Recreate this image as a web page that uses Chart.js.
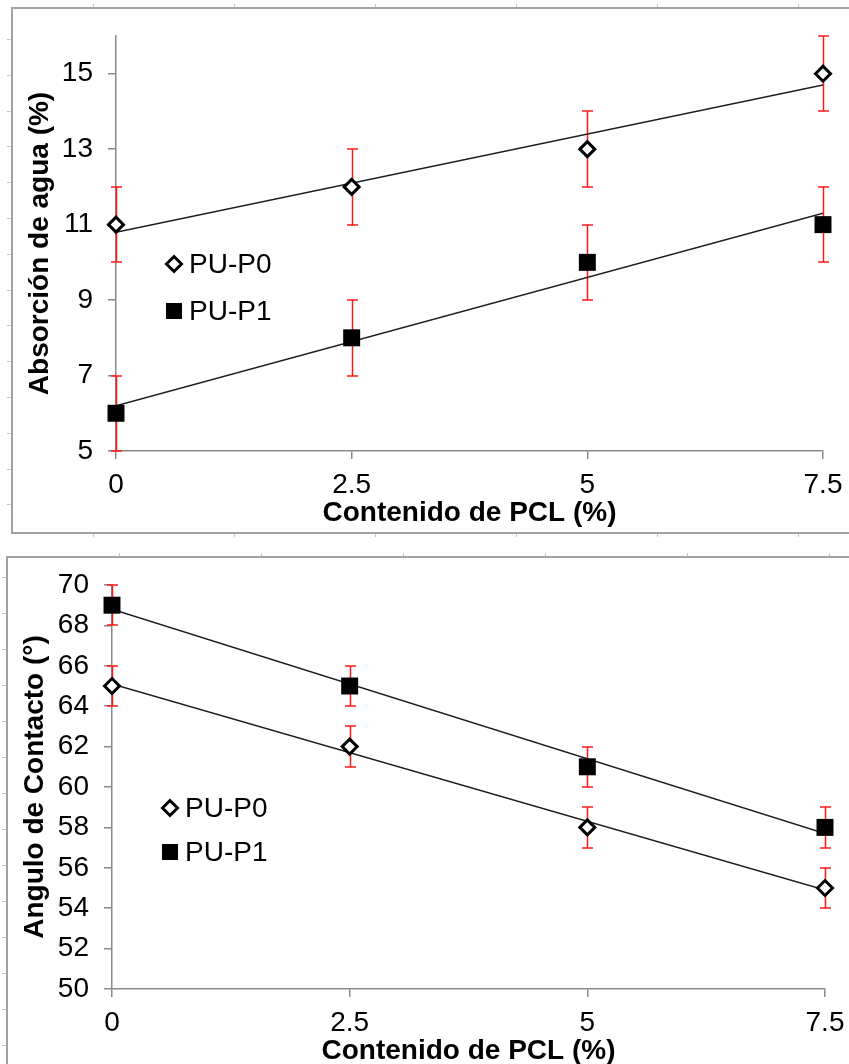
<!DOCTYPE html>
<html>
<head>
<meta charset="utf-8">
<title>Absorción de agua y ángulo de contacto</title>
<script src="https://cdn.jsdelivr.net/npm/chart.js@4.4.1/dist/chart.umd.min.js"></script>
<style>
  html, body { margin: 0; padding: 0; background: #fff; overflow: hidden; }
  body { width: 849px; height: 1064px; position: relative; }
  canvas { position: absolute; left: 0; }
  #chart-absorcion { top: 0; }
  #chart-angulo { top: 540px; }
</style>
</head>
<body>
<canvas id="chart-absorcion" width="849" height="540"></canvas>
<canvas id="chart-angulo" width="849" height="538"></canvas>
<script>
// PCL content (%) shared by both panels
const PCL = [0, 2.5, 5, 7.5];
const X_TICKS = [0, 2.5, 5, 7.5];
const SERIES_NAMES = ['PU-P0', 'PU-P1'];

// Water absorption (%)
const ABS_P0 = [11, 12, 13, 15];
const ABS_P1 = [6, 8, 10, 11];
const ABS_P0_ERR = [1, 1, 1, 1];
const ABS_P1_ERR = [1, 1, 1, 1];
const ABS_TICKS = [5, 7, 9, 11, 13, 15];

// Contact angle (°)
const ANG_P0 = [65, 62, 58, 55];
const ANG_P1 = [69, 65, 61, 58];
const ANG_P0_ERR = [1, 1, 1, 1];
const ANG_P1_ERR = [1, 1, 1, 1];
const ANG_TICKS = [50, 52, 54, 56, 58, 60, 62, 64, 66, 68, 70];

const FONT = "'Liberation Sans', Arial, Helvetica, sans-serif";
const AXIS_GRAY = '#8a8a8a';
const ERR_RED = '#ff1a1a';

Chart.defaults.font.family = FONT;
Chart.defaults.color = '#000';

function toPoints(xs, ys) {
    return xs.map((x, i) => ({ x, y: ys[i] }));
}

// Least-squares trend line across the x range (like a spreadsheet trendline)
function linearFit(xs, ys) {
    const n = xs.length;
    const mx = xs.reduce((a, b) => a + b, 0) / n;
    const my = ys.reduce((a, b) => a + b, 0) / n;
    let sxy = 0, sxx = 0;
    xs.forEach((x, i) => {
        sxy += (x - mx) * (ys[i] - my);
        sxx += (x - mx) * (x - mx);
    });
    const slope = sxy / sxx;
    const icpt = my - slope * mx;
    return [xs[0], xs[n - 1]].map(x => ({ x, y: icpt + slope * x }));
}

function drawMarker(ctx, style, x, y) {
    ctx.save();
    if (style === 'diamond') {
        ctx.beginPath();
        ctx.moveTo(x - 7.5, y);
        ctx.lineTo(x, y - 7.5);
        ctx.lineTo(x + 7.5, y);
        ctx.lineTo(x, y + 7.5);
        ctx.closePath();
        ctx.fillStyle = '#fff';
        ctx.fill();
        ctx.lineWidth = 3;
        ctx.strokeStyle = '#000';
        ctx.stroke();
    } else {
        ctx.fillStyle = '#000';
        ctx.fillRect(x - 8, y - 8, 16, 16);
    }
    ctx.restore();
}

// Red ±error bars, drawn under the markers
const errorBars = {
    id: 'errorBars',
    beforeDatasetsDraw(chart) {
        const { ctx, scales: { x, y } } = chart;
        ctx.save();
        ctx.strokeStyle = ERR_RED;
        ctx.lineWidth = 1.5;
        chart.data.datasets.forEach(ds => {
            if (!ds.errors) return;
            ds.data.forEach((p, i) => {
                const px = Math.round(x.getPixelForValue(p.x)) + 0.5;
                const hi = Math.round(y.getPixelForValue(p.y + ds.errors[i]));
                const lo = Math.round(y.getPixelForValue(p.y - ds.errors[i]));
                ctx.beginPath();
                ctx.moveTo(px, hi);
                ctx.lineTo(px, lo);
                ctx.moveTo(px - 5.5, hi);
                ctx.lineTo(px + 5.5, hi);
                ctx.moveTo(px - 5.5, lo);
                ctx.lineTo(px + 5.5, lo);
                ctx.stroke();
            });
        });
        ctx.restore();
    },
};

// Legend placed inside the plot area
const insetLegend = {
    id: 'insetLegend',
    afterDatasetsDraw(chart, args, opts) {
        const { ctx, chartArea } = chart;
        const x0 = chartArea.left + opts.left;
        let y0 = chartArea.top + opts.top;
        ctx.save();
        ctx.font = '28px ' + FONT;
        ctx.textBaseline = 'middle';
        ctx.fillStyle = '#000';
        chart.data.datasets.forEach(ds => {
            if (!ds.marker) return;
            drawMarker(ctx, ds.marker, x0, y0);
            ctx.fillText(ds.label, x0 + 15, y0 + 1);
            y0 += opts.rowGap;
        });
        ctx.restore();
    },
};

// Gray panel frame with little ruler ticks around it
const panelFrame = {
    id: 'panelFrame',
    beforeDraw(chart, args, o) {
        const { ctx, width, height } = chart;
        ctx.save();
        ctx.fillStyle = '#fff';
        ctx.fillRect(0, 0, width, height);

        ctx.strokeStyle = '#c4c4c4';
        ctx.lineWidth = 1;
        ctx.beginPath();
        for (let x = o.rulerX0; x < width; x += o.rulerDX) {
            const rx = Math.round(x) + 0.5;
            ctx.moveTo(rx, o.top - 4);
            ctx.lineTo(rx, o.top);
            if (o.bottom) {
                ctx.moveTo(rx, o.bottom);
                ctx.lineTo(rx, o.bottom + 4);
            }
        }
        for (let y = o.rulerY0; y < height; y += o.rulerDY) {
            const ry = Math.round(y) + 0.5;
            ctx.moveTo(o.left - 5, ry);
            ctx.lineTo(o.left, ry);
        }
        ctx.stroke();

        ctx.strokeStyle = '#a2a2a2';
        ctx.lineWidth = 2;
        ctx.beginPath();
        ctx.moveTo(width + 5, o.top);
        ctx.lineTo(o.left, o.top);
        if (o.bottom) {
            ctx.lineTo(o.left, o.bottom);
            ctx.lineTo(width + 5, o.bottom);
        } else {
            ctx.lineTo(o.left, height + 5);
        }
        ctx.stroke();
        ctx.restore();
    },
};

function buildPanel(canvasId, p) {
    const trend = {
        showLine: true,
        borderColor: '#1e1e1e',
        borderWidth: 1.5,
        pointRadius: 0,
        fill: false,
    };
    const tickList = list => scale => { scale.ticks = list.map(v => ({ value: v })); };
    const axisGrid = {
        drawOnChartArea: false,
        color: AXIS_GRAY,
        lineWidth: 1.5,
        tickLength: 8,
    };

    return new Chart(document.getElementById(canvasId), {
        type: 'scatter',
        data: {
            datasets: [
                {
                    label: SERIES_NAMES[0],
                    marker: 'diamond',
                    data: toPoints(PCL, p.p0),
                    errors: p.p0Err,
                    clip: false,
                    pointStyle: 'rectRot',
                    pointRadius: 7.5,
                    pointBorderWidth: 3,
                    pointBorderColor: '#000',
                    pointBackgroundColor: '#fff',
                },
                {
                    label: SERIES_NAMES[1],
                    marker: 'square',
                    data: toPoints(PCL, p.p1),
                    errors: p.p1Err,
                    clip: false,
                    pointStyle: 'rect',
                    pointRadius: 12,
                    pointBorderWidth: 0,
                    pointBackgroundColor: '#000',
                },
                { label: 'fit-p0', data: linearFit(PCL, p.p0), ...trend },
                { label: 'fit-p1', data: linearFit(PCL, p.p1), ...trend },
            ],
        },
        options: {
            responsive: false,
            animation: false,
            events: [],
            layout: { padding: p.padding },
            scales: {
                x: {
                    type: 'linear',
                    min: 0,
                    max: 7.5,
                    afterBuildTicks: tickList(X_TICKS),
                    afterFit: s => {
                        s.height = 89;
                        s.paddingLeft = 0;
                        s.paddingRight = 0;
                    },
                    grid: axisGrid,
                    border: { color: AXIS_GRAY, width: 1.5 },
                    ticks: {
                        autoSkip: false,
                        maxRotation: 0,
                        padding: 9,
                        font: { size: 28 },
                        color: '#000',
                        callback: v => String(v),
                    },
                    title: {
                        display: true,
                        text: 'Contenido de PCL (%)',
                        font: { size: 28, weight: 'bold' },
                        color: '#000',
                        padding: { top: 0, bottom: 10 },
                    },
                },
                y: {
                    type: 'linear',
                    min: p.yMin,
                    max: p.yMax,
                    afterBuildTicks: tickList(p.yTicks),
                    afterFit: s => {
                        s.width = p.axisLeft;
                        s.paddingTop = 0;
                        s.paddingBottom = 0;
                    },
                    grid: axisGrid,
                    border: { color: AXIS_GRAY, width: 1.5 },
                    ticks: {
                        autoSkip: false,
                        padding: 15,
                        font: { size: 28 },
                        color: '#000',
                        callback: v => String(v),
                    },
                    title: {
                        display: true,
                        text: p.yTitle,
                        font: { size: 28, weight: 'bold' },
                        color: '#000',
                        padding: { top: p.yTitlePad, bottom: 0 },
                    },
                },
            },
            plugins: {
                legend: { display: false },
                tooltip: { enabled: false },
                insetLegend: p.legend,
                panelFrame: p.frame,
            },
        },
        plugins: [panelFrame, errorBars, insetLegend],
    });
}

buildPanel('chart-absorcion', {
    p0: ABS_P0, p1: ABS_P1, p0Err: ABS_P0_ERR, p1Err: ABS_P1_ERR,
    yMin: 5, yMax: 16, yTicks: ABS_TICKS,
    yTitle: 'Absorción de agua (%)',
    yTitlePad: 23,
    axisLeft: 116,
    padding: { top: 36, right: 26, left: 0, bottom: 0 },
    legend: { left: 58, top: 228, rowGap: 47 },
    frame: { left: 12, top: 8, bottom: 533, rulerX0: 93, rulerDX: 141, rulerY0: 39, rulerDY: 35.8 },
});

buildPanel('chart-angulo', {
    p0: ANG_P0, p1: ANG_P1, p0Err: ANG_P0_ERR, p1Err: ANG_P1_ERR,
    yMin: 50, yMax: 70, yTicks: ANG_TICKS,
    yTitle: 'Angulo de Contacto (°)',
    yTitlePad: 18,
    axisLeft: 112,
    padding: { top: 45, right: 24, left: 0, bottom: 0 },
    legend: { left: 58, top: 223, rowGap: 44 },
    frame: { left: 7, top: 17, rulerX0: 119, rulerDX: 142, rulerY0: 37, rulerDY: 36 },
});
</script>
</body>
</html>
